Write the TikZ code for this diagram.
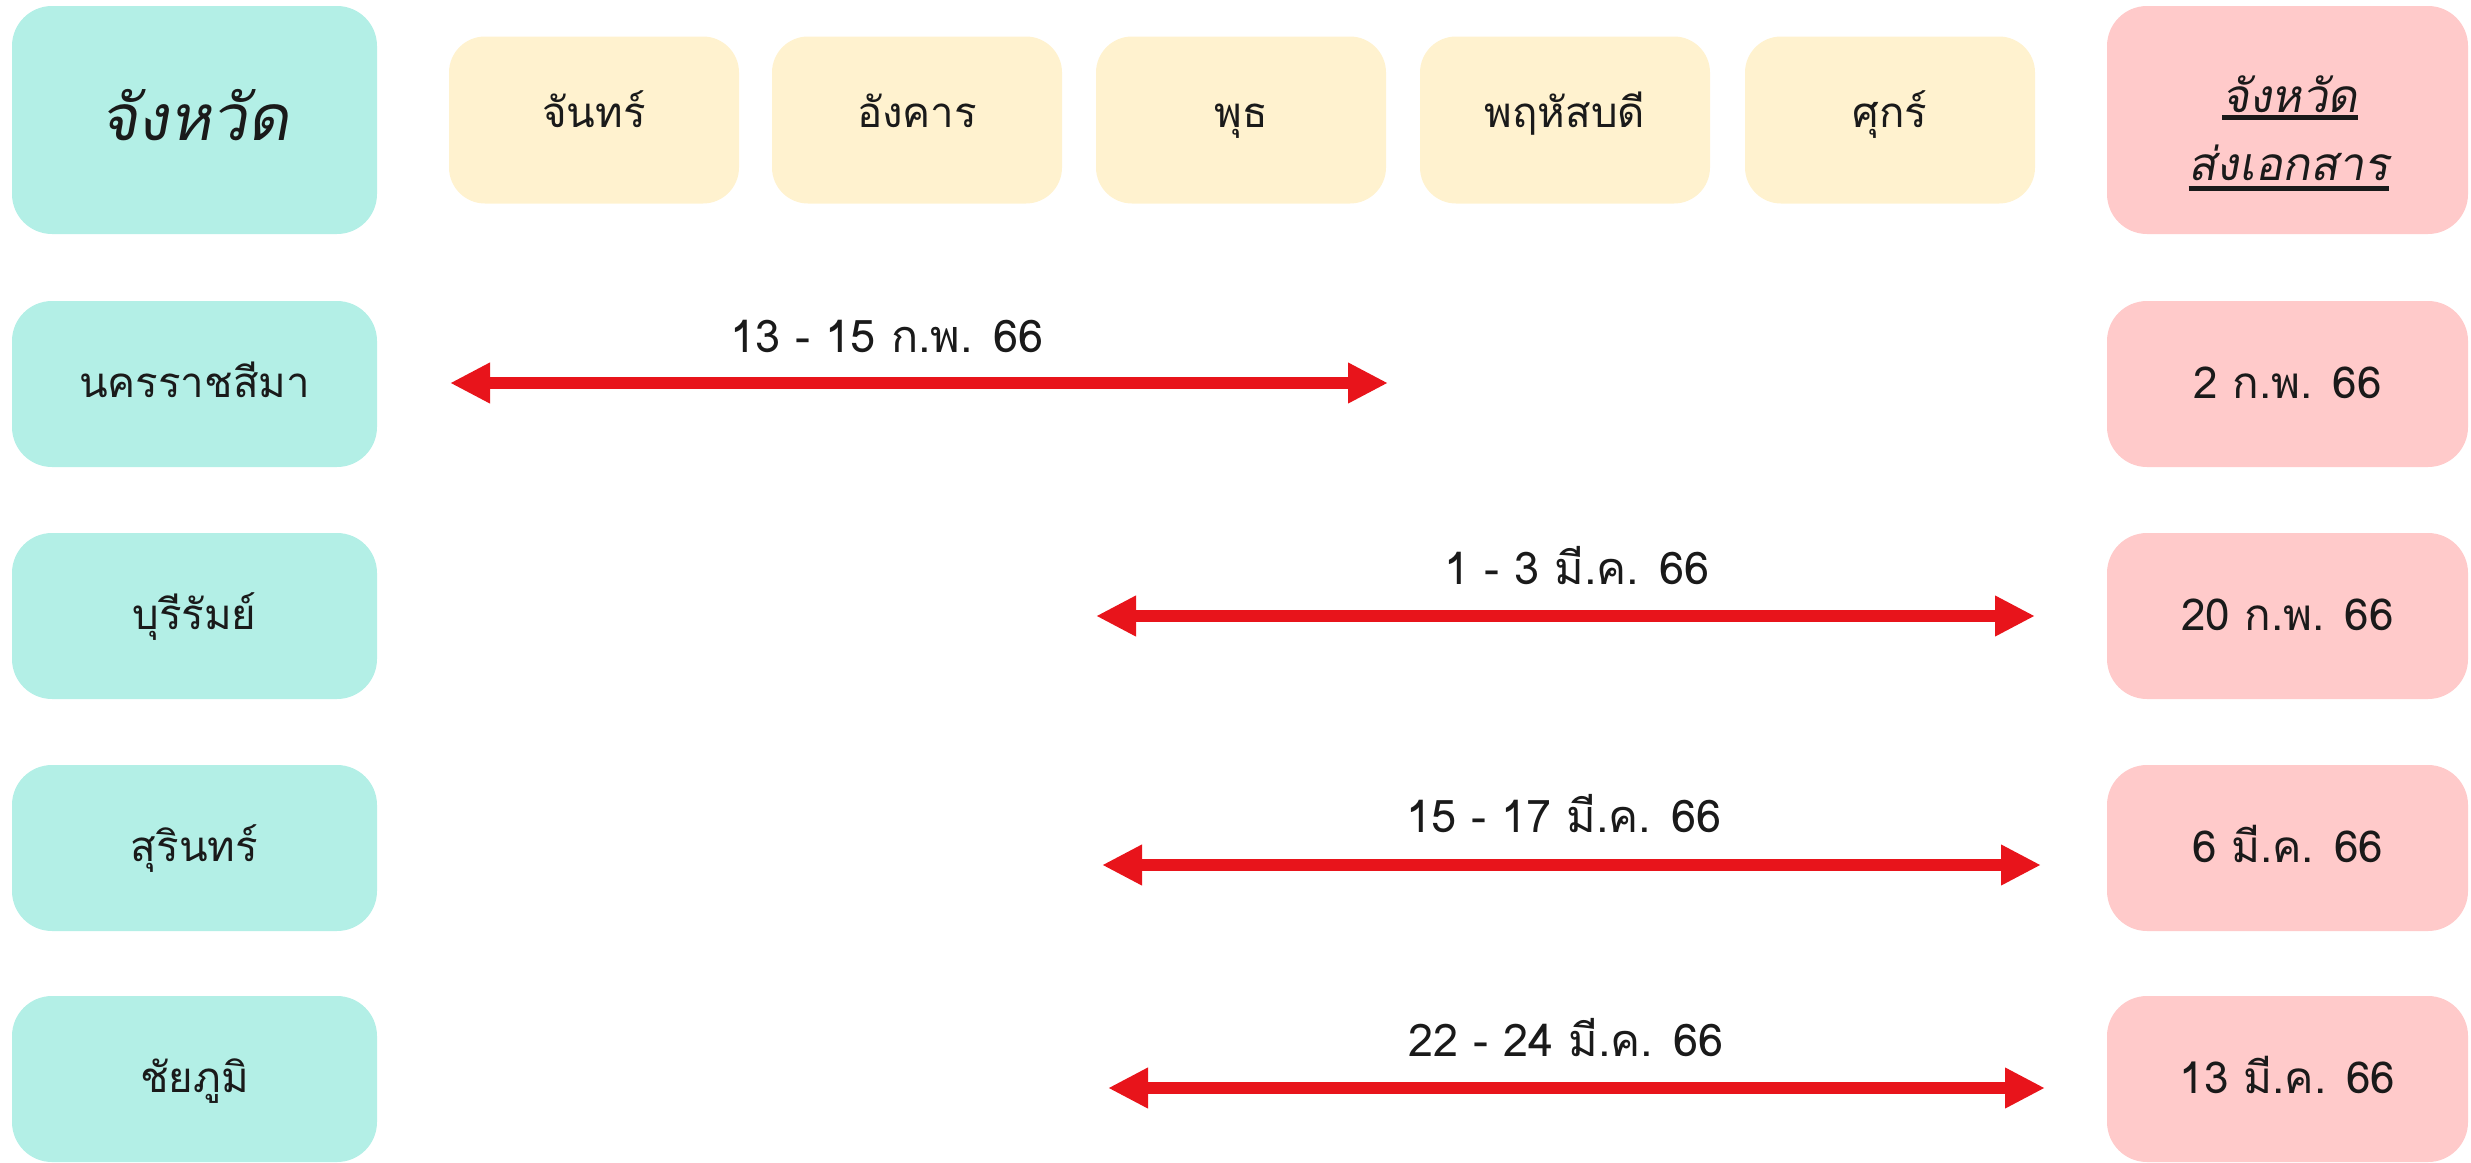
\documentclass[tikz,border=0pt]{standalone}
\usepackage{fontspec}
\setmainfont[Script=Thai]{Loma}
\newfontfamily\slthai[Script=Thai,FakeSlant=0.18]{Loma}
\usetikzlibrary{arrows.meta}
\definecolor{tealbox}{HTML}{B3EFE6}
\definecolor{creambox}{HTML}{FFF2CF}
\definecolor{pinkbox}{HTML}{FFCACA}
\definecolor{arrowred}{HTML}{E8141B}
\definecolor{ink}{HTML}{1A1A1A}
\begin{document}
\begin{tikzpicture}[x=1pt,y=-1pt,
  box/.style={rounded corners=40pt, inner sep=0pt, text=ink, align=center},
  provbox/.style={box, fill=tealbox, minimum width=365pt, minimum height=166pt,
     font=\fontsize{42}{50}\selectfont, text height=26pt, text depth=0pt},
  datebox/.style={box, fill=pinkbox, minimum width=361pt, minimum height=166pt,
     font=\fontsize{44}{52}\selectfont, text height=28pt, text depth=0pt},
  daybox/.style={box, rounded corners=36pt, fill=creambox, minimum width=290pt, minimum height=167pt,
     font=\fontsize{42}{50}\selectfont, text height=14pt, text depth=0pt},
  span/.style={line width=12pt, draw=arrowred,
     {Triangle[length=40pt,width=38pt]}-{Triangle[length=40pt,width=38pt]}},
  spanlabel/.style={anchor=base, inner sep=0pt, text=ink, font=\fontsize{45}{54}\selectfont},
  hdr/.style={anchor=base, inner sep=0pt, text=ink, font=\slthai\fontsize{46}{54}\selectfont},
  uline/.style={line width=5pt, draw=ink}
]
\useasboundingbox (0,0) rectangle (2471,1162);
\clip (0,0) rectangle (2471,1162);

% header row
\node[box, fill=tealbox, minimum width=365pt, minimum height=228pt,
      font=\slthai\fontsize{64}{76}\selectfont, text height=40pt, text depth=0pt] (hprov) at (194.5,120) {จังหวัด};
\node[daybox] (mon) at (594,120) {จันทร์};
\node[daybox] (tue) at (917,120) {อังคาร};
\node[daybox] (wed) at (1241,120) {พุธ};
\node[daybox] (thu) at (1565,120) {พฤหัสบดี};
\node[daybox] (fri) at (1890,120) {ศุกร์};
\node[box, fill=pinkbox, minimum width=361pt, minimum height=228pt] (hdate) at (2287.5,120) {};
\node[hdr] (hd1) at (2290,112) {จังหวัด};
\node[hdr] (hd2) at (2289,180) {ส่งเอกสาร};
\draw[uline] ([yshift=-5pt]hd1.base west) -- ([yshift=-5pt]hd1.base east);
\draw[uline] ([yshift=-8pt]hd2.base west) -- ([yshift=-8pt]hd2.base east);

% province rows
\node[provbox] (p1) at (194.5,384) {นครราชสีมา};
\node[provbox] (p2) at (194.5,616) {บุรีรัมย์};
\node[provbox] (p3) at (194.5,848) {สุรินทร์};
\node[provbox] (p4) at (194.5,1079) {ชัยภูมิ};

\node[datebox] (d1) at (2287.5,384) {2 ก.พ. 66};
\node[datebox] (d2) at (2287.5,616) {20 ก.พ. 66};
\node[datebox] (d3) at (2287.5,848) {6 มี.ค. 66};
\node[datebox] (d4) at (2287.5,1079) {13 มี.ค. 66};

% spans
\coordinate (s1a) at (450,383);  \coordinate (s1b) at (1388,383);
\coordinate (s2a) at (1096,616); \coordinate (s2b) at (2035,616);
\coordinate (s3a) at (1102,865); \coordinate (s3b) at (2041,865);
\coordinate (s4a) at (1108,1088); \coordinate (s4b) at (2045,1088);
\draw[span] (s1a) -- (s1b);
\draw[span] (s2a) -- (s2b);
\draw[span] (s3a) -- (s3b);
\draw[span] (s4a) -- (s4b);

\node[spanlabel] (l1) at (887,352) {13 - 15 ก.พ. 66};
\node[spanlabel] (l2) at (1577,584) {1 - 3 มี.ค. 66};
\node[spanlabel] (l3) at (1564,832) {15 - 17 มี.ค. 66};
\node[spanlabel] (l4) at (1566,1056) {22 - 24 มี.ค. 66};
\end{tikzpicture}
\end{document}
